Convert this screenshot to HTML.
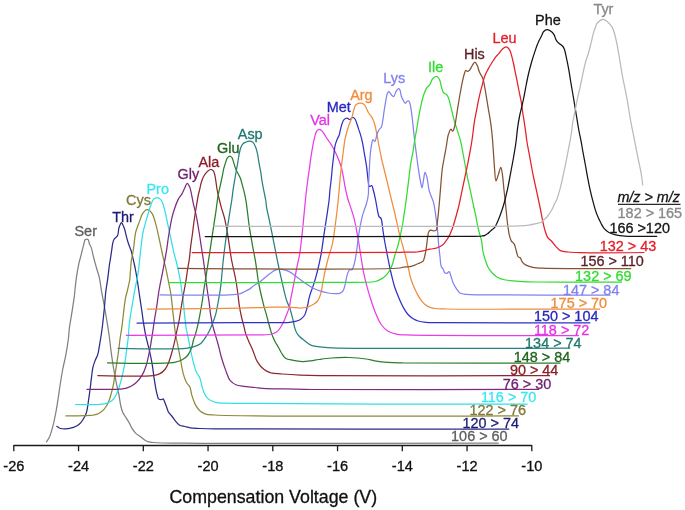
<!DOCTYPE html>
<html><head><meta charset="utf-8"><style>
html,body{margin:0;padding:0;background:#fff;}
body{width:685px;height:510px;overflow:hidden;}
svg{display:block;will-change:transform;filter:blur(0.3px);}
text{font-family:"Liberation Sans",sans-serif;}
</style></head><body>
<svg width="685" height="510" viewBox="0 0 685 510">
<g fill="none" stroke-width="1.25" stroke-linejoin="round" stroke-linecap="round">
<path stroke="#808080" d="M46.5,441.8 C46.5,441.8 48.7,438.6 49.7,436.4 C51.0,433.5 52.0,429.6 53.0,425.7 C54.2,421.1 55.3,415.4 56.2,410.5 C57.0,406.0 57.6,402.1 58.3,397.6 C59.0,392.8 59.7,387.3 60.5,382.5 C61.2,378.0 61.9,373.8 62.7,369.5 C63.5,365.2 64.7,360.5 65.5,356.6 C66.1,353.5 66.5,351.0 67.0,348.0 C67.5,344.8 68.1,341.4 68.5,338.0 C68.9,334.4 69.0,330.6 69.5,327.0 C70.0,323.4 70.7,319.8 71.3,316.2 C71.9,312.6 72.5,309.0 73.0,305.4 C73.5,301.8 74.1,298.3 74.5,294.7 C74.9,291.1 75.2,287.5 75.6,283.9 C76.0,280.3 76.5,276.6 77.1,273.1 C77.6,269.9 78.2,266.7 78.8,263.8 C79.4,261.3 80.0,259.1 80.6,256.8 C81.2,254.4 81.8,252.0 82.4,249.7 C82.9,247.6 83.4,245.6 83.9,243.8 C84.3,242.3 84.5,240.4 85.1,239.7 C85.5,239.3 86.0,239.1 86.5,239.1 C87.0,239.1 87.8,239.2 88.2,239.7 C88.9,240.4 88.9,242.5 89.4,243.8 C89.9,245.1 90.7,246.0 91.2,247.4 C91.9,249.3 92.3,252.1 92.9,254.4 C93.5,256.8 94.1,259.2 94.7,261.5 C95.3,263.7 95.8,265.6 96.5,268.0 C97.3,270.8 98.5,274.0 99.3,277.4 C100.2,281.3 100.6,285.8 101.4,290.3 C102.2,295.1 103.3,300.4 104.2,305.4 C105.1,310.4 106.0,315.5 106.8,320.5 C107.6,325.4 108.4,329.9 109.1,335.0 C109.9,340.5 110.4,346.5 111.2,352.3 C112.0,358.0 113.1,365.6 113.8,369.5 C114.1,371.5 114.4,372.2 114.7,374.0 C115.2,376.7 115.9,380.9 116.6,384.3 C117.3,387.7 118.2,391.1 118.9,394.5 C119.6,398.0 119.9,401.8 120.6,405.0 C121.2,407.7 121.8,410.3 122.8,412.5 C123.6,414.3 124.8,415.7 125.8,417.3 C126.9,419.0 128.1,420.8 129.1,422.6 C130.1,424.3 130.7,426.2 131.7,427.9 C132.8,429.7 134.1,431.6 135.6,433.1 C137.1,434.6 139.1,435.7 140.9,437.0 C142.8,438.4 144.7,440.4 146.8,441.3 C148.8,442.2 151.0,442.2 153.4,442.5 C156.2,442.8 158.5,442.9 162.6,443.0 C170.9,443.3 181.6,443.2 200.0,443.3 C252.0,443.5 498.3,443.2 498.3,443.2"/>
<path stroke="#2a2a88" d="M56.8,426.3 C56.8,426.3 59.1,428.1 60.5,428.5 C62.1,429.0 64.0,429.0 65.9,428.9 C68.2,428.8 71.2,428.2 73.5,427.4 C75.5,426.7 77.3,425.9 78.9,424.6 C80.6,423.2 82.0,421.2 83.2,419.2 C84.5,417.2 85.6,415.3 86.4,412.7 C87.5,409.2 88.0,403.9 88.6,399.8 C89.2,396.0 89.6,392.6 90.1,389.0 C90.6,385.4 90.9,381.8 91.4,378.2 C91.9,374.6 92.2,370.5 92.9,367.4 C93.5,364.9 94.2,363.0 95.0,360.9 C95.8,358.7 97.1,356.8 97.8,354.4 C98.6,351.8 98.9,348.8 99.4,345.8 C100.0,342.4 100.7,338.3 101.2,335.0 C101.6,332.1 101.9,330.2 102.3,327.0 C102.9,322.3 103.6,315.5 104.2,309.7 C104.8,304.0 105.1,298.0 105.7,292.5 C106.3,287.3 107.3,282.2 107.9,277.4 C108.5,273.1 109.0,267.9 109.4,265.0 C109.6,263.5 109.8,262.8 110.0,261.5 C110.3,259.8 110.6,257.6 110.9,255.6 C111.2,253.6 111.5,251.7 111.8,249.7 C112.1,247.7 112.2,245.6 112.6,243.8 C112.9,242.3 113.2,240.8 113.8,239.7 C114.3,238.7 115.2,238.1 115.9,237.4 C116.5,236.8 117.2,236.5 117.6,235.6 C118.4,234.1 118.3,230.4 118.8,228.5 C119.2,227.1 119.5,226.0 120.0,225.0 C120.4,224.1 120.9,222.6 121.4,222.6 C121.9,222.6 122.4,224.1 122.9,225.0 C123.4,226.0 123.9,227.2 124.4,228.5 C125.0,230.2 125.4,232.4 125.9,234.4 C126.4,236.4 126.8,238.3 127.4,240.3 C128.0,242.3 128.7,244.4 129.4,246.2 C130.0,247.9 130.7,249.2 131.2,250.9 C131.8,253.0 132.4,255.6 132.9,257.9 C133.5,260.3 134.0,262.8 134.5,265.0 C134.9,266.8 135.2,268.2 135.5,270.0 C135.9,272.1 136.3,274.3 136.7,276.7 C137.1,279.3 137.5,282.0 138.0,285.0 C138.5,288.6 139.1,292.7 139.7,296.7 C140.3,301.0 141.1,305.7 141.7,310.0 C142.3,314.0 142.7,317.7 143.3,321.7 C144.0,326.0 144.8,331.1 145.6,335.0 C146.3,338.2 147.0,340.7 147.7,343.6 C148.4,346.5 149.1,349.2 149.8,352.3 C150.6,355.7 151.3,359.2 152.0,363.1 C152.8,367.7 153.4,373.4 154.1,378.2 C154.8,382.7 155.7,388.1 156.3,391.1 C156.7,392.8 156.9,393.7 157.3,395.0 C157.7,396.3 157.8,398.2 158.6,398.9 C159.2,399.5 160.4,399.6 161.2,399.6 C161.9,399.6 162.7,398.7 163.2,398.9 C163.8,399.2 164.0,400.5 164.5,401.6 C165.1,403.0 165.8,405.1 166.5,406.8 C167.2,408.6 167.6,410.5 168.5,412.1 C169.4,413.6 170.7,414.6 171.8,416.0 C173.1,417.6 174.3,419.7 175.7,421.3 C176.9,422.8 178.1,424.3 179.6,425.2 C181.1,426.1 183.1,426.1 184.9,426.5 C186.7,427.0 188.1,427.6 190.2,427.9 C193.0,428.3 196.4,428.3 200.0,428.5 C204.5,428.7 206.8,428.8 215.0,428.9 C251.1,429.4 508.8,429.2 508.8,429.2"/>
<path stroke="#8c8a38" d="M65.9,415.9 C65.9,415.9 80.0,415.9 85.0,415.7 C88.3,415.6 90.8,415.6 93.2,415.2 C95.2,414.8 97.0,414.4 98.7,413.5 C100.6,412.5 102.6,410.9 104.2,409.1 C105.9,407.2 107.3,404.7 108.4,402.2 C109.6,399.6 110.3,396.8 111.1,394.0 C111.9,391.3 112.6,388.5 113.2,385.7 C113.8,383.0 114.1,380.2 114.5,377.5 C115.0,374.7 115.4,372.1 115.9,369.2 C116.4,366.1 116.8,362.8 117.3,359.6 C117.8,356.4 118.3,353.3 118.7,350.0 C119.2,346.3 119.6,342.2 120.1,338.5 C120.6,335.0 121.2,331.9 121.7,328.3 C122.3,324.2 122.8,319.3 123.3,315.0 C123.8,311.0 124.2,306.6 124.7,303.3 C125.1,300.8 125.3,298.9 125.8,296.7 C126.3,294.5 126.9,292.5 127.5,290.0 C128.2,287.0 129.2,283.4 129.7,280.0 C130.2,276.7 130.2,273.2 130.5,270.0 C130.8,266.9 130.9,263.7 131.3,261.0 C131.6,258.8 132.0,257.1 132.4,255.0 C132.8,252.8 133.3,250.4 133.6,248.0 C134.0,245.5 134.2,243.0 134.5,240.5 C134.8,238.0 135.0,235.3 135.5,233.0 C135.9,231.0 136.6,229.4 137.2,227.5 C137.9,225.6 138.6,223.7 139.4,221.6 C140.3,219.3 141.1,216.3 142.1,214.4 C142.9,213.0 143.7,211.7 144.7,210.9 C145.5,210.2 146.5,209.6 147.4,209.6 C148.3,209.6 149.2,210.2 150.0,210.9 C151.0,211.7 151.8,212.9 152.6,214.4 C153.7,216.5 154.5,219.5 155.3,222.4 C156.2,225.6 157.1,229.2 157.9,232.9 C158.8,236.9 159.7,241.2 160.6,245.3 C161.5,249.4 162.3,253.6 163.2,257.6 C164.0,261.3 165.1,264.9 165.8,268.3 C166.5,271.3 166.9,273.9 167.5,276.7 C168.1,279.5 168.6,282.2 169.2,285.0 C169.7,287.8 170.3,290.4 170.8,293.3 C171.3,296.5 171.6,300.0 172.0,303.3 C172.4,306.6 172.6,310.0 173.0,313.3 C173.4,316.6 173.8,319.9 174.2,323.3 C174.6,326.8 174.9,330.4 175.5,334.0 C176.1,337.8 177.1,342.0 177.9,345.8 C178.6,349.5 179.2,352.6 180.0,356.6 C181.0,361.7 182.0,369.2 183.3,373.9 C184.3,377.3 185.2,380.2 186.5,382.5 C187.5,384.3 188.9,385.0 189.8,386.8 C190.9,389.1 191.0,392.5 191.9,395.4 C192.8,398.3 193.8,401.5 195.1,404.1 C196.3,406.5 197.8,408.8 199.5,410.5 C201.1,412.0 202.7,413.0 204.9,413.8 C207.7,414.8 209.3,414.7 215.0,415.0 C246.2,416.9 518.5,415.8 518.5,415.8"/>
<path stroke="#30e0e6" d="M75.6,404.5 C75.6,404.5 93.3,404.9 98.7,404.5 C101.7,404.3 103.4,404.2 105.6,403.6 C107.8,403.0 110.0,402.3 111.8,400.8 C113.8,399.2 115.3,396.6 116.6,394.0 C118.1,391.1 119.0,387.7 120.0,384.3 C121.1,380.8 122.0,377.2 122.8,373.4 C123.7,369.4 124.6,365.0 125.2,361.0 C125.8,357.2 126.1,353.7 126.6,350.0 C127.1,346.1 127.8,342.1 128.2,338.0 C128.6,333.8 128.8,329.2 129.2,325.0 C129.6,321.0 130.2,317.0 130.8,313.3 C131.3,309.8 131.9,306.6 132.5,303.3 C133.1,300.0 133.6,296.5 134.2,293.3 C134.7,290.4 135.3,287.8 135.8,285.0 C136.4,282.2 137.0,279.5 137.5,276.7 C138.0,273.9 138.3,271.1 138.7,268.3 C139.0,265.5 139.3,263.2 139.6,260.0 C140.1,255.8 140.6,250.0 141.2,245.3 C141.7,241.0 142.1,236.8 142.9,232.9 C143.6,229.2 144.7,225.7 145.6,222.4 C146.5,219.3 147.3,216.5 148.2,213.5 C149.1,210.6 149.9,207.2 150.9,204.7 C151.7,202.7 152.3,200.6 153.5,199.4 C154.5,198.4 155.9,197.6 157.1,197.6 C158.3,197.6 159.6,198.4 160.6,199.4 C161.8,200.6 162.4,202.6 163.2,204.7 C164.3,207.6 165.0,211.6 165.9,215.3 C166.8,219.2 167.6,223.5 168.5,227.6 C169.4,231.7 170.3,235.9 171.2,240.0 C172.1,244.1 172.9,248.5 173.8,252.4 C174.6,255.8 175.6,258.9 176.4,262.0 C177.1,264.8 177.6,267.2 178.2,270.0 C178.9,273.1 179.6,276.6 180.2,280.0 C180.8,283.6 181.3,287.3 181.8,291.0 C182.3,294.8 182.8,298.6 183.3,302.5 C183.8,306.6 184.1,310.9 184.6,315.0 C185.0,319.0 185.4,323.3 186.0,327.0 C186.5,330.2 187.2,333.0 187.8,336.0 C188.4,339.0 188.9,341.6 189.6,345.0 C190.5,349.6 191.8,356.1 193.0,360.9 C194.0,364.9 194.9,368.8 196.2,371.7 C197.2,373.9 198.6,375.1 199.5,377.1 C200.5,379.3 200.9,382.1 201.6,384.6 C202.3,387.1 202.8,389.9 203.8,392.2 C204.7,394.2 205.7,396.1 207.0,397.6 C208.2,399.0 209.7,400.0 211.3,400.8 C213.0,401.7 214.5,402.2 216.8,402.6 C220.7,403.3 224.0,403.1 232.5,403.3 C269.3,404.2 527.2,404.2 527.2,404.2"/>
<path stroke="#7e2a80" d="M87.0,389.4 C87.0,389.4 113.6,389.5 120.0,389.1 C122.6,388.9 123.7,388.9 125.5,388.4 C127.4,387.9 129.2,387.3 131.0,386.3 C132.9,385.3 134.8,383.9 136.5,382.2 C138.5,380.3 140.4,377.9 142.0,375.3 C143.7,372.5 145.0,369.1 146.1,365.7 C147.3,362.2 148.0,358.4 148.8,354.7 C149.6,351.0 150.2,347.6 150.9,343.7 C151.6,339.4 152.3,334.4 153.0,330.0 C153.6,325.9 154.1,322.2 154.7,318.3 C155.3,314.4 156.1,310.6 156.7,306.7 C157.3,302.8 157.7,298.7 158.3,295.0 C158.8,291.5 159.4,288.2 160.0,285.0 C160.5,282.1 161.2,279.5 161.7,276.7 C162.3,273.9 162.8,271.1 163.3,268.3 C163.9,265.4 164.4,262.5 165.0,259.4 C165.6,256.0 166.2,252.5 166.8,248.8 C167.4,244.9 167.9,240.4 168.5,236.5 C169.1,232.8 169.7,229.3 170.3,225.9 C170.9,222.8 171.4,220.0 172.1,217.1 C172.8,214.1 173.7,211.1 174.7,208.2 C175.7,205.2 176.9,201.9 178.2,199.4 C179.3,197.3 180.8,195.9 181.8,194.1 C182.8,192.4 183.5,190.6 184.4,188.8 C185.3,187.0 186.3,183.4 187.3,183.4 C188.1,183.4 189.0,185.6 189.7,187.1 C190.5,189.0 190.9,191.6 191.5,194.1 C192.1,196.9 192.5,199.7 193.2,202.9 C194.0,206.8 195.3,211.1 196.2,215.6 C197.3,220.7 198.2,226.6 199.1,232.0 C200.0,237.4 200.7,242.9 201.5,248.0 C202.2,252.6 202.9,256.5 203.5,261.0 C204.2,265.8 204.9,271.2 205.5,276.0 C206.1,280.5 206.5,284.7 207.1,289.0 C207.7,293.2 208.4,297.3 209.0,301.5 C209.6,305.8 210.0,310.4 210.6,314.4 C211.2,318.0 211.8,321.4 212.5,324.6 C213.2,327.6 214.0,330.0 214.8,333.0 C215.7,336.3 216.9,339.8 217.9,343.5 C219.1,347.7 220.0,352.5 221.3,357.0 C222.6,361.5 224.2,366.4 225.8,370.6 C227.2,374.3 228.3,378.2 230.3,380.7 C231.9,382.6 233.8,383.9 235.9,384.8 C238.2,385.8 240.9,386.0 243.8,386.4 C247.2,386.9 251.3,387.1 255.1,387.5 C258.9,387.9 261.7,388.3 266.4,388.6 C273.9,389.0 286.4,388.9 295.7,389.1 C304.2,389.2 307.9,389.4 320.0,389.5 C356.4,389.8 538.6,389.3 538.6,389.3"/>
<path stroke="#8c2830" d="M97.8,375.6 C97.8,375.6 143.6,376.8 153.0,375.6 C156.3,375.2 157.5,374.9 159.5,373.9 C161.5,372.9 163.4,371.4 164.9,369.5 C166.7,367.3 168.0,364.0 169.2,360.9 C170.5,357.6 171.5,353.7 172.5,350.1 C173.5,346.5 174.4,342.6 175.1,339.3 C175.7,336.5 176.1,334.5 176.7,331.7 C177.4,328.2 178.5,324.0 179.2,320.0 C180.0,315.7 180.6,311.0 181.3,306.7 C182.0,302.7 182.6,299.0 183.3,295.0 C184.1,290.7 185.1,286.0 185.8,281.7 C186.5,277.7 186.9,273.7 187.5,270.0 C188.0,266.5 188.7,263.6 189.2,260.0 C189.8,256.0 190.1,251.3 190.6,247.1 C191.1,243.0 191.7,239.3 192.3,235.0 C192.9,230.3 193.5,225.0 194.2,220.0 C194.9,215.0 195.8,209.6 196.6,205.0 C197.2,201.2 197.8,197.4 198.4,194.5 C198.9,192.4 199.3,190.9 199.8,189.0 C200.3,187.0 200.6,184.8 201.2,182.8 C201.8,180.9 202.4,178.9 203.2,177.3 C203.8,176.0 204.5,175.0 205.3,173.9 C206.1,172.8 207.0,171.6 208.0,170.9 C209.0,170.2 210.2,169.4 211.2,169.5 C212.1,169.6 212.9,170.4 213.5,171.2 C214.2,172.2 214.5,173.7 214.9,175.3 C215.4,177.3 215.7,179.8 216.0,182.1 C216.4,184.4 216.6,186.7 217.0,189.0 C217.4,191.3 217.8,193.4 218.4,196.0 C219.2,199.3 220.3,203.6 221.3,207.3 C222.3,210.9 223.6,214.4 224.5,218.0 C225.4,221.6 226.0,225.0 226.7,228.8 C227.5,232.9 228.1,237.2 228.8,241.8 C229.6,247.1 230.3,253.1 231.4,259.0 C232.5,265.2 234.3,272.3 235.4,278.0 C236.3,282.7 236.9,286.5 237.5,291.0 C238.2,295.7 238.6,301.0 239.3,305.5 C239.9,309.6 240.7,313.4 241.5,317.0 C242.2,320.2 243.1,323.0 243.8,325.9 C244.5,328.7 245.0,331.4 245.8,334.0 C246.6,336.4 247.5,338.5 248.6,341.0 C249.8,343.9 251.4,347.0 252.8,350.3 C254.3,353.9 255.3,358.3 257.3,361.6 C259.1,364.6 261.6,367.6 264.1,369.5 C266.2,371.1 268.3,372.0 270.9,372.8 C274.1,373.7 277.9,373.6 282.1,374.0 C287.4,374.4 294.0,374.8 300.2,375.1 C306.6,375.4 309.8,375.5 320.0,375.6 C354.7,376.0 549.6,375.7 549.6,375.7"/>
<path stroke="#2a7e2a" d="M107.5,362.9 C107.5,362.9 163.4,364.3 174.6,362.4 C178.5,361.7 180.0,361.0 182.2,359.8 C184.3,358.7 186.1,357.3 187.6,355.5 C189.3,353.5 190.5,350.6 191.5,348.0 C192.5,345.4 192.8,342.4 193.5,340.0 C194.1,338.1 194.7,336.8 195.3,334.8 C196.1,332.0 197.1,328.2 197.9,324.6 C198.8,320.6 199.6,316.1 200.4,311.9 C201.2,307.7 201.9,303.6 202.5,299.5 C203.1,295.5 203.6,291.6 204.2,287.7 C204.8,283.9 205.3,280.7 206.0,276.3 C207.0,270.2 208.3,261.9 209.4,254.7 C210.5,247.5 211.5,240.3 212.6,233.1 C213.7,225.9 215.0,217.7 215.9,211.6 C216.5,207.1 216.9,203.4 217.4,200.0 C217.8,197.4 218.1,195.5 218.6,193.1 C219.1,190.5 219.8,187.6 220.4,184.9 C221.0,182.1 221.6,179.4 222.2,176.6 C222.8,173.9 223.2,170.8 223.8,168.4 C224.3,166.4 224.9,164.7 225.5,162.9 C226.1,161.2 226.4,159.3 227.2,158.1 C227.8,157.2 228.8,156.2 229.6,156.1 C230.3,156.0 231.2,156.7 231.8,157.4 C232.6,158.3 232.9,160.0 233.4,161.6 C234.1,163.6 234.7,166.3 235.5,168.4 C236.3,170.4 237.3,172.2 238.2,173.9 C238.9,175.4 239.7,176.4 240.3,178.0 C241.1,180.0 241.7,182.6 242.3,184.9 C242.9,187.2 243.5,189.3 244.1,191.7 C244.7,194.3 245.4,197.6 245.8,200.0 C246.1,201.9 246.3,202.8 246.6,205.1 C247.3,209.8 248.3,219.7 249.3,226.7 C250.3,233.4 251.5,239.8 252.6,246.1 C253.7,252.0 254.9,257.6 255.8,263.3 C256.7,269.0 257.4,275.4 258.2,280.3 C258.8,284.1 259.5,287.2 260.2,290.5 C260.9,293.7 261.6,296.8 262.3,299.7 C263.0,302.4 263.6,305.1 264.3,307.6 C264.9,309.9 265.7,311.9 266.3,314.2 C267.0,316.7 267.6,319.4 268.3,322.0 C269.0,324.5 269.7,327.1 270.4,329.5 C271.0,331.6 271.5,333.5 272.3,335.5 C273.1,337.5 274.0,339.5 275.0,341.5 C276.0,343.5 277.4,345.5 278.5,347.5 C279.6,349.4 280.4,351.2 281.5,353.0 C282.7,354.8 283.7,357.0 285.5,358.2 C287.5,359.6 290.7,359.8 293.4,360.4 C296.3,361.0 299.4,361.5 302.4,361.6 C305.3,361.7 308.2,361.2 311.0,360.8 C313.6,360.5 315.7,359.9 318.6,359.5 C322.3,359.0 327.0,358.3 331.6,358.0 C336.9,357.6 343.1,357.3 348.8,357.5 C354.6,357.7 361.3,358.3 366.1,359.0 C369.5,359.5 371.5,360.3 374.7,360.8 C378.6,361.4 383.2,362.0 387.7,362.3 C392.5,362.7 395.1,362.7 402.8,362.9 C427.6,363.4 560.0,363.0 560.0,363.0"/>
<path stroke="#2a8080" d="M118.1,348.4 C118.1,348.4 175.6,349.7 187.6,348.1 C191.9,347.5 193.9,346.7 196.2,345.8 C197.9,345.2 199.1,344.9 200.4,343.8 C202.2,342.4 204.0,339.6 205.5,337.4 C206.9,335.3 208.2,333.3 209.3,331.0 C210.5,328.6 211.5,326.1 212.5,323.4 C213.6,320.5 214.8,317.7 215.7,314.4 C216.7,310.6 217.4,306.1 218.2,302.0 C218.9,298.0 219.7,293.8 220.2,290.2 C220.6,287.2 220.8,285.4 221.2,282.0 C221.8,276.3 222.5,266.9 223.4,259.0 C224.3,250.6 225.6,241.3 226.7,233.1 C227.7,225.6 229.0,217.7 229.9,211.6 C230.6,207.1 231.2,203.9 231.8,200.0 C232.4,195.9 232.8,191.3 233.4,187.6 C233.9,184.6 234.3,182.1 234.8,179.4 C235.3,176.7 235.7,173.8 236.2,171.2 C236.6,168.8 237.1,166.6 237.5,164.3 C237.9,162.0 238.2,159.6 238.6,157.4 C238.9,155.5 239.2,153.7 239.6,152.0 C240.0,150.3 240.4,148.5 241.0,147.1 C241.5,145.8 242.1,144.5 243.0,143.7 C243.8,142.9 244.8,142.5 245.8,142.1 C246.9,141.6 248.1,141.0 249.2,141.0 C250.3,141.0 251.6,141.3 252.6,142.1 C253.8,143.0 254.6,144.8 255.4,146.5 C256.3,148.5 256.8,150.9 257.4,153.3 C258.0,155.9 258.3,158.7 258.8,161.6 C259.3,164.7 260.0,167.9 260.6,171.2 C261.2,174.7 261.6,178.5 262.2,182.1 C262.8,185.8 263.7,189.9 264.3,193.1 C264.8,195.7 265.3,197.7 265.7,200.0 C266.1,202.4 266.1,204.4 266.6,207.3 C267.3,211.4 268.7,216.9 269.8,222.4 C271.1,228.9 272.7,236.7 274.1,243.9 C275.5,251.1 277.0,259.0 278.4,265.5 C279.5,270.8 280.7,275.9 281.6,280.0 C282.3,283.0 282.8,285.3 283.4,287.9 C284.0,290.5 284.6,293.3 285.3,295.8 C285.9,298.1 286.5,300.3 287.3,302.3 C288.0,304.2 289.0,305.7 289.7,307.6 C290.4,309.7 290.9,312.0 291.5,314.2 C292.1,316.4 292.7,318.5 293.2,320.7 C293.7,322.9 294.0,325.3 294.6,327.3 C295.1,329.2 295.7,330.9 296.5,332.5 C297.3,334.0 298.3,335.2 299.5,336.5 C300.9,337.9 302.7,339.2 304.5,340.6 C306.6,342.2 308.9,344.3 311.4,345.3 C314.0,346.4 316.9,346.5 320.0,346.9 C323.6,347.4 325.3,347.5 331.6,347.8 C360.3,348.9 569.7,348.2 569.7,348.2"/>
<path stroke="#e83ce8" d="M126.3,335.3 C126.3,335.3 241.2,335.3 259.7,334.9 C264.6,334.8 266.3,334.9 268.9,334.5 C270.9,334.2 272.6,333.9 274.2,333.2 C275.7,332.6 276.9,331.7 278.1,330.6 C279.4,329.4 280.4,327.7 281.4,326.0 C282.6,324.0 283.7,321.6 284.7,319.4 C285.7,317.2 286.5,314.9 287.3,312.8 C288.0,311.0 288.8,309.5 289.3,307.6 C289.9,305.3 290.1,302.2 290.6,299.7 C291.0,297.4 291.5,295.3 291.9,293.1 C292.3,290.9 292.8,288.8 293.2,286.6 C293.6,284.4 294.0,282.5 294.5,280.0 C295.2,276.5 296.0,271.8 296.8,267.7 C297.6,263.5 298.7,259.8 299.5,255.0 C300.6,248.7 301.4,240.4 302.2,233.1 C303.0,225.9 303.7,218.2 304.3,211.6 C304.8,206.0 305.3,200.8 305.8,196.0 C306.3,191.8 306.7,188.4 307.2,184.3 C307.8,179.9 308.5,175.0 309.1,170.6 C309.7,166.5 310.1,162.7 310.7,158.8 C311.3,154.9 311.9,150.8 312.6,147.1 C313.2,143.7 313.8,140.1 314.6,137.3 C315.2,135.1 315.7,132.8 316.6,131.4 C317.2,130.4 318.1,129.5 318.9,129.4 C319.7,129.3 320.7,129.8 321.5,130.4 C322.6,131.2 323.5,132.9 324.4,134.3 C325.4,135.8 326.4,137.7 327.4,139.2 C328.3,140.6 329.4,141.7 330.3,143.1 C331.3,144.6 332.3,146.3 333.2,148.0 C334.2,149.9 335.2,151.8 336.2,153.9 C337.2,156.1 338.2,158.4 339.1,160.8 C340.0,163.3 341.0,165.8 341.7,168.6 C342.5,171.7 343.0,175.1 343.6,178.4 C344.2,181.6 344.6,184.8 345.3,188.0 C346.0,191.3 346.7,194.7 347.6,198.0 C348.5,201.3 349.7,204.3 350.8,207.6 C351.9,211.2 353.3,215.1 354.2,218.8 C355.1,222.3 355.6,225.5 356.3,229.0 C357.0,232.8 357.8,236.8 358.5,241.0 C359.3,245.5 359.9,250.1 360.7,255.0 C361.5,260.3 362.4,266.2 363.4,271.5 C364.4,276.4 365.5,281.1 366.7,285.5 C367.8,289.5 368.7,292.8 370.0,297.0 C371.6,302.1 373.7,308.8 375.8,313.7 C377.5,317.8 379.0,321.5 381.2,324.5 C383.1,327.1 385.2,329.4 387.7,331.0 C390.2,332.6 393.2,333.5 396.3,334.2 C399.6,334.9 401.2,334.7 406.8,334.9 C429.5,335.7 578.5,335.6 578.5,335.6"/>
<path stroke="#3030c4" d="M137.0,323.1 C137.0,323.1 211.8,322.8 240.0,322.6 C259.6,322.5 281.7,323.0 289.9,322.3 C292.6,322.1 293.5,321.9 295.2,321.4 C297.0,320.9 298.9,320.4 300.4,319.4 C301.9,318.4 303.4,317.0 304.4,315.5 C305.4,314.0 305.8,312.0 306.4,310.2 C306.9,308.5 307.3,306.8 307.7,305.0 C308.2,302.9 308.5,300.6 309.0,298.4 C309.6,296.2 310.3,293.9 311.0,291.8 C311.6,290.0 312.3,288.5 312.9,286.6 C313.7,284.3 314.5,281.6 315.3,279.0 C316.1,276.1 316.9,273.4 317.7,270.0 C318.8,265.6 320.0,260.3 321.0,254.7 C322.2,248.1 323.1,240.3 324.2,233.1 C325.3,225.9 326.6,217.7 327.5,211.6 C328.1,207.1 328.7,203.7 329.1,200.0 C329.5,196.6 329.6,193.6 329.9,190.2 C330.3,186.4 330.9,182.5 331.3,178.4 C331.8,174.0 332.1,168.9 332.6,164.7 C333.0,161.2 333.4,158.2 333.8,154.9 C334.2,151.6 334.5,147.9 335.2,145.1 C335.7,142.9 336.5,140.9 337.2,139.2 C337.8,137.7 338.6,136.8 339.1,135.3 C339.7,133.6 340.0,131.4 340.5,129.4 C341.0,127.4 341.4,125.2 342.1,123.5 C342.6,122.0 343.1,120.5 344.0,119.6 C344.8,118.8 346.0,118.0 347.0,118.0 C347.9,118.0 348.9,119.6 349.8,119.5 C350.8,119.4 351.9,117.3 352.8,117.3 C353.5,117.3 354.2,117.9 354.8,118.6 C355.7,119.6 356.2,121.8 356.8,123.5 C357.5,125.4 358.1,127.4 358.7,129.4 C359.4,131.4 360.1,133.2 360.7,135.3 C361.4,137.7 362.0,140.2 362.6,143.1 C363.3,146.6 363.9,151.0 364.6,154.9 C365.3,158.8 366.0,162.8 366.6,166.7 C367.1,170.6 367.4,174.9 367.9,178.4 C368.3,181.4 368.3,185.9 369.4,186.5 C370.0,186.8 371.2,185.3 371.8,185.6 C372.6,186.0 372.7,188.1 373.2,189.8 C374.0,192.4 374.9,196.5 375.6,200.0 C376.4,203.8 377.1,209.0 377.8,212.0 C378.2,213.9 378.3,215.5 379.0,216.6 C379.5,217.4 380.5,217.4 381.0,218.4 C382.1,220.5 382.3,226.1 382.9,230.0 C383.5,234.0 384.1,238.1 384.8,242.0 C385.4,245.6 386.1,248.8 386.8,252.5 C387.6,256.7 388.6,261.7 389.5,266.0 C390.3,269.9 391.1,273.5 392.0,277.0 C392.8,280.3 393.5,283.4 394.5,286.5 C395.4,289.4 396.7,292.4 397.7,295.0 C398.6,297.3 399.4,299.3 400.4,301.5 C401.4,303.7 402.5,306.0 403.7,308.1 C404.9,310.2 406.1,312.2 407.6,314.0 C409.1,315.7 411.0,317.4 412.8,318.6 C414.5,319.7 416.1,320.4 418.1,321.0 C420.4,321.7 423.0,322.0 426.0,322.3 C429.8,322.7 432.4,322.5 439.1,322.6 C462.0,322.9 589.9,322.8 589.9,322.8"/>
<path stroke="#f08c3c" d="M147.4,309.0 C147.4,309.0 218.5,308.7 240.0,308.2 C251.4,308.0 257.9,307.5 266.3,307.3 C274.0,307.2 282.1,307.0 288.6,307.2 C293.6,307.3 298.2,308.2 301.8,308.0 C304.4,307.9 306.3,307.5 308.3,306.9 C310.2,306.3 312.0,305.3 313.6,304.3 C315.1,303.3 316.4,302.4 317.5,301.0 C318.6,299.6 319.4,297.6 320.1,295.8 C320.8,294.1 321.1,292.4 321.5,290.5 C322.0,288.3 322.3,285.8 322.7,283.5 C323.1,281.1 323.4,279.2 324.0,276.3 C324.9,271.8 326.6,264.6 328.0,259.0 C329.4,253.8 331.2,249.4 332.4,243.9 C333.8,237.4 334.7,229.2 335.6,222.4 C336.4,216.3 337.1,210.8 337.7,205.0 C338.3,199.4 338.8,193.5 339.3,188.2 C339.7,183.4 340.0,179.1 340.5,174.5 C341.0,169.9 341.6,165.2 342.1,160.8 C342.6,156.7 343.1,152.7 343.6,149.0 C344.1,145.6 344.4,142.3 345.0,139.2 C345.6,136.4 346.3,134.0 347.0,131.4 C347.8,128.8 348.6,125.9 349.5,123.5 C350.3,121.4 351.2,119.7 351.9,117.6 C352.7,115.2 353.1,112.1 353.8,109.8 C354.4,108.0 354.7,106.0 355.8,104.9 C356.8,103.9 358.5,103.3 359.9,103.2 C361.1,103.1 362.6,103.2 363.6,103.9 C364.8,104.7 365.6,106.7 366.4,108.2 C367.2,109.7 367.7,111.6 368.6,113.0 C369.4,114.3 370.5,115.2 371.3,116.4 C372.1,117.7 372.8,119.1 373.4,120.5 C374.0,121.8 374.4,123.0 374.8,124.5 C375.3,126.2 375.6,128.1 376.0,130.0 C376.5,132.2 377.0,134.7 377.4,137.0 C377.8,139.3 378.2,141.6 378.6,144.0 C379.1,146.6 379.7,149.4 380.2,152.0 C380.7,154.4 381.1,156.7 381.6,159.0 C382.1,161.3 382.7,163.7 383.3,166.0 C383.9,168.3 384.4,170.7 385.0,173.0 C385.5,175.2 386.1,177.3 386.6,179.5 C387.2,181.9 387.7,184.2 388.4,187.0 C389.3,190.7 390.5,195.8 391.5,200.0 C392.5,204.1 393.4,207.4 394.5,212.0 C395.9,218.0 397.7,226.9 399.2,233.1 C400.4,237.9 401.6,241.8 402.8,246.0 C403.9,250.1 405.0,254.1 406.0,258.0 C406.9,261.6 407.7,265.1 408.5,268.5 C409.2,271.6 409.7,274.7 410.5,277.5 C411.2,280.0 412.0,282.1 412.9,284.5 C413.9,287.0 415.1,289.6 416.3,292.0 C417.5,294.4 418.6,296.8 420.1,298.9 C421.5,300.9 423.0,302.8 424.7,304.2 C426.3,305.5 428.1,306.7 429.9,307.4 C431.6,308.1 433.1,308.2 435.2,308.5 C438.1,308.9 440.1,308.9 445.7,309.0 C466.9,309.5 599.6,309.0 599.6,309.0"/>
<path stroke="#8282f0" d="M160.0,294.9 C160.0,294.9 213.3,295.4 225.0,295.1 C229.3,295.0 231.3,294.8 233.8,294.6 C235.8,294.4 237.3,294.4 239.0,294.0 C240.8,293.5 242.6,292.6 244.3,291.8 C246.1,291.0 247.9,290.1 249.5,289.1 C251.1,288.1 252.4,286.6 253.9,285.6 C255.3,284.6 256.9,284.0 258.3,283.0 C259.8,282.0 261.2,280.7 262.7,279.5 C264.1,278.3 265.6,277.2 267.0,276.0 C268.5,274.8 269.9,273.5 271.4,272.5 C272.8,271.5 274.4,270.5 275.8,269.9 C277.0,269.4 277.9,269.0 279.3,269.0 C281.5,269.0 285.1,269.8 287.6,270.8 C289.9,271.7 291.8,273.3 293.9,274.7 C296.0,276.2 298.1,277.8 300.2,279.4 C302.3,281.0 304.4,282.6 306.5,284.1 C308.5,285.5 310.5,286.8 312.7,288.0 C315.1,289.2 318.0,290.4 320.6,291.2 C323.1,292.0 325.6,292.6 328.0,293.0 C330.4,293.4 332.9,293.6 335.0,293.6 C336.7,293.6 338.2,293.8 339.5,293.3 C340.8,292.9 342.0,292.2 342.9,291.0 C344.1,289.5 344.5,286.8 345.2,284.3 C346.0,281.3 346.4,276.7 347.4,274.1 C348.1,272.3 348.7,270.4 349.7,269.8 C350.3,269.4 351.3,270.1 351.9,269.7 C353.0,269.0 353.5,266.2 354.2,264.0 C355.1,261.0 355.7,257.0 356.3,253.0 C357.1,248.2 357.7,241.9 358.4,237.0 C359.0,232.9 359.6,229.2 360.3,225.6 C360.9,222.4 361.5,219.4 362.2,216.6 C362.8,214.2 363.6,212.0 364.3,209.8 C365.0,207.7 365.9,205.8 366.5,203.5 C367.3,200.7 368.1,197.0 368.4,194.0 C368.7,191.2 368.4,188.9 368.5,186.0 C368.6,182.5 368.9,178.8 369.1,174.5 C369.4,168.9 369.7,160.5 370.2,155.0 C370.6,151.0 371.0,147.3 371.6,144.5 C372.0,142.5 372.2,139.8 372.9,139.6 C373.4,139.4 374.3,141.6 374.9,141.4 C375.8,141.1 376.2,136.7 376.9,134.7 C377.5,133.0 378.0,131.3 378.8,130.0 C379.5,128.8 380.8,128.3 381.4,127.0 C382.2,125.4 382.3,123.3 382.7,121.0 C383.2,118.1 383.6,114.5 384.1,111.2 C384.6,107.9 385.1,104.5 385.7,101.4 C386.2,98.6 386.6,95.2 387.3,93.5 C387.7,92.6 388.1,91.7 388.6,91.6 C389.1,91.5 389.7,92.5 390.2,93.1 C390.8,93.8 391.3,94.9 392.0,95.5 C392.6,96.0 393.3,96.7 393.9,96.5 C394.8,96.2 395.1,93.0 395.9,91.6 C396.6,90.4 397.6,88.7 398.4,88.6 C398.9,88.5 399.4,89.0 399.8,89.6 C400.6,90.8 400.7,94.6 401.4,96.5 C401.9,98.0 402.6,99.2 403.3,100.4 C403.9,101.5 404.7,103.3 405.3,103.3 C405.8,103.3 406.3,101.8 406.9,101.4 C407.5,101.1 408.3,100.7 408.8,101.0 C409.5,101.4 409.8,102.9 410.2,104.3 C410.8,106.5 411.2,109.9 411.6,113.1 C412.1,116.7 412.6,121.0 413.0,124.9 C413.4,128.7 413.7,132.4 414.1,136.0 C414.5,139.6 414.9,142.9 415.4,146.5 C415.9,150.2 416.4,154.1 416.9,158.0 C417.4,162.0 418.0,166.2 418.6,170.3 C419.2,174.3 419.9,178.9 420.6,182.1 C421.1,184.4 421.5,187.9 422.0,187.9 C422.5,187.9 423.0,182.7 423.5,180.1 C424.0,177.5 424.4,172.3 425.1,172.3 C425.7,172.3 426.5,175.8 427.1,178.1 C427.9,181.3 428.2,186.7 429.0,189.9 C429.6,192.2 430.3,193.8 431.0,195.8 C431.7,197.8 432.7,199.6 433.3,201.7 C434.0,204.1 434.5,206.9 434.9,209.5 C435.4,212.1 435.6,214.8 436.0,217.4 C436.3,220.0 436.7,222.4 437.0,225.0 C437.3,227.6 437.5,230.1 437.8,233.0 C438.1,236.6 438.3,241.0 438.7,245.0 C439.1,248.9 439.5,253.0 440.0,256.7 C440.4,260.2 440.4,264.7 441.3,266.7 C441.7,267.7 442.5,268.0 443.0,268.8 C443.6,269.9 443.9,272.0 444.7,272.7 C445.3,273.2 446.0,273.4 446.7,273.3 C447.5,273.2 448.5,271.5 449.2,271.7 C450.0,272.0 450.2,274.2 450.8,275.8 C451.6,277.9 452.3,281.0 453.3,283.3 C454.3,285.4 455.5,287.5 456.7,289.2 C457.7,290.7 458.5,292.1 460.0,293.0 C461.7,294.0 464.1,294.1 466.7,294.4 C470.4,294.8 473.3,294.7 480.0,294.8 C501.0,295.1 610.0,295.2 610.0,295.2"/>
<path stroke="#32dc32" d="M169.3,282.5 C169.3,282.5 298.4,282.8 335.0,282.4 C353.1,282.2 369.0,282.9 375.6,281.5 C377.9,281.0 378.6,280.3 380.0,279.6 C381.4,278.9 382.7,278.2 383.9,277.3 C385.2,276.3 386.4,275.0 387.5,273.7 C388.5,272.4 389.4,271.0 390.2,269.5 C391.1,267.8 391.8,266.1 392.5,264.0 C393.4,261.3 394.1,257.7 395.0,254.7 C395.9,251.7 396.9,249.2 397.8,246.0 C398.8,242.3 399.8,237.7 400.6,234.0 C401.3,230.8 401.9,228.1 402.5,225.0 C403.1,221.8 403.5,218.3 404.0,215.0 C404.5,211.7 405.0,208.6 405.5,205.0 C406.1,201.0 406.6,196.4 407.2,192.0 C407.8,187.4 408.3,182.7 408.9,178.1 C409.5,173.4 410.0,168.5 410.7,164.0 C411.3,159.9 412.2,156.4 412.9,152.4 C413.6,148.1 414.2,143.3 414.9,139.0 C415.6,134.9 416.4,130.9 417.1,126.9 C417.8,122.9 418.3,118.8 419.0,115.1 C419.6,111.7 420.3,108.4 421.0,105.3 C421.6,102.5 422.2,99.9 422.9,97.5 C423.5,95.4 424.2,93.4 424.9,91.6 C425.5,90.1 426.1,88.8 426.9,87.6 C427.7,86.5 428.9,85.9 429.8,84.7 C430.9,83.1 431.4,80.2 432.7,78.8 C433.8,77.6 435.5,76.1 436.7,76.3 C437.8,76.5 438.8,78.3 439.6,79.8 C440.6,81.8 440.9,85.3 441.6,87.6 C442.2,89.5 442.6,91.5 443.6,92.7 C444.4,93.7 445.9,93.8 446.7,94.7 C447.6,95.6 448.0,96.8 448.6,98.3 C449.4,100.5 450.1,103.9 450.8,106.7 C451.5,109.3 452.1,111.9 452.7,114.5 C453.4,117.1 454.0,120.0 454.7,122.4 C455.3,124.5 456.1,126.2 456.7,128.2 C457.4,130.3 458.0,132.6 458.6,134.6 C459.2,136.5 459.8,138.1 460.3,140.0 C460.9,142.1 461.2,144.1 461.8,146.8 C462.6,150.9 463.7,157.3 464.7,162.5 C465.7,167.7 466.6,173.1 467.6,178.1 C468.6,182.8 469.6,187.3 470.6,191.9 C471.6,196.5 472.6,201.2 473.5,205.6 C474.4,209.6 475.2,213.3 476.0,217.0 C476.7,220.6 477.3,224.4 478.0,227.5 C478.6,230.1 479.2,232.2 479.8,234.5 C480.4,236.8 481.1,238.7 481.6,241.2 C482.2,244.1 482.3,247.9 482.9,251.0 C483.4,253.8 484.1,256.2 484.9,258.8 C485.7,261.4 486.6,264.3 487.8,266.7 C488.9,268.9 490.2,270.7 491.8,272.5 C493.5,274.3 495.4,276.3 497.6,277.5 C499.9,278.8 502.5,279.4 505.5,280.0 C509.4,280.8 514.2,281.1 519.2,281.4 C525.1,281.8 530.0,281.9 538.8,282.0 C556.9,282.3 621.5,282.0 621.5,282.0"/>
<path stroke="#84522f" d="M178.3,268.3 C178.3,268.3 383.5,269.9 400.0,268.0 C402.1,267.8 402.1,267.4 403.5,267.2 C405.3,266.9 408.0,267.1 410.0,266.7 C411.8,266.3 413.5,265.6 415.0,265.0 C416.2,264.5 417.3,263.9 418.3,263.5 C419.2,263.1 420.0,262.9 420.8,262.5 C421.7,262.0 422.6,261.7 423.3,260.8 C424.2,259.5 424.5,257.2 425.0,255.0 C425.7,252.1 426.2,248.3 426.7,245.0 C427.1,241.9 427.4,238.3 427.8,236.0 C428.1,234.5 428.1,233.3 428.6,232.3 C429.0,231.4 429.6,230.4 430.4,230.1 C431.2,229.8 432.3,230.8 433.3,230.8 C434.3,230.8 435.6,230.8 436.3,230.1 C437.3,229.1 436.9,226.4 437.2,224.0 C437.6,220.5 438.2,215.6 438.6,211.0 C439.1,205.9 439.6,200.2 440.0,195.0 C440.4,189.9 440.8,184.8 441.2,180.1 C441.6,176.0 441.8,172.2 442.3,168.5 C442.8,165.0 443.5,161.9 444.1,158.5 C444.7,154.9 445.5,151.2 446.1,147.5 C446.8,143.7 447.4,138.2 448.0,135.8 C448.3,134.7 448.4,134.4 448.8,133.5 C449.3,132.3 450.0,129.3 450.8,129.2 C451.4,129.1 452.1,131.3 452.7,131.2 C453.5,131.1 454.1,128.3 454.7,126.3 C455.6,123.3 456.0,118.4 456.7,114.5 C457.3,110.6 457.9,106.6 458.6,102.7 C459.2,98.8 459.9,94.7 460.6,91.0 C461.2,87.6 461.8,84.3 462.5,81.2 C463.1,78.4 463.8,75.3 464.5,73.3 C464.9,72.1 465.2,70.6 465.8,70.4 C466.3,70.3 466.9,71.4 467.5,71.4 C468.1,71.4 468.8,71.0 469.4,70.4 C470.3,69.5 471.1,67.4 472.0,66.0 C472.9,64.6 474.0,62.0 474.9,62.0 C475.7,62.0 476.6,64.1 477.3,65.5 C478.1,67.2 478.5,69.7 479.2,71.4 C479.8,72.9 480.5,74.0 481.2,75.3 C481.8,76.6 482.6,77.6 483.1,79.2 C483.8,81.3 484.2,84.2 484.7,87.1 C485.4,90.6 486.1,94.9 486.7,98.8 C487.4,102.7 488.0,106.7 488.6,110.6 C489.3,114.5 490.1,118.7 490.6,122.4 C491.1,125.8 491.5,128.8 491.8,132.0 C492.2,135.3 492.4,138.4 492.7,142.0 C493.0,146.0 493.3,150.7 493.6,155.0 C493.9,159.3 494.1,163.7 494.5,168.0 C494.9,172.3 495.1,180.9 495.9,181.0 C496.5,181.1 497.4,177.2 498.2,175.1 C499.1,172.7 500.1,167.3 500.8,167.3 C501.4,167.3 501.8,170.7 502.2,173.1 C502.9,177.1 503.4,184.0 503.9,189.0 C504.4,193.6 504.9,197.9 505.3,202.0 C505.7,205.6 505.9,208.6 506.3,212.0 C506.7,215.7 507.0,219.6 507.5,223.5 C508.0,227.4 508.6,232.1 509.4,235.3 C510.0,237.6 510.4,239.7 511.4,241.2 C512.2,242.4 513.5,242.8 514.3,244.1 C515.3,245.8 515.6,248.8 516.3,251.0 C516.9,253.0 517.3,255.9 518.2,256.9 C518.8,257.5 519.6,257.2 520.2,257.8 C521.0,258.6 521.3,260.6 522.2,261.8 C523.2,263.1 524.5,264.2 526.1,265.1 C528.0,266.1 530.4,266.8 532.9,267.3 C535.8,267.9 538.4,268.0 542.7,268.2 C551.1,268.6 566.6,268.5 580.0,268.6 C595.6,268.7 630.7,268.5 630.7,268.5"/>
<path stroke="#e61e28" d="M192.2,252.6 C192.2,252.6 376.9,252.5 400.0,252.3 C404.6,252.3 405.5,252.2 408.3,252.2 C411.1,252.1 414.1,252.3 416.7,252.0 C419.0,251.8 421.1,251.3 423.3,250.8 C425.5,250.3 427.8,249.7 430.0,249.2 C432.2,248.7 434.6,248.7 436.7,248.0 C438.7,247.4 440.7,246.4 442.2,245.3 C443.6,244.3 444.4,243.1 445.5,241.7 C446.7,240.2 447.8,238.4 448.9,236.5 C450.1,234.3 451.2,231.6 452.2,229.0 C453.3,226.2 454.2,222.9 455.0,220.0 C455.8,217.4 456.4,215.0 457.1,212.5 C457.7,210.2 458.3,208.3 458.9,205.6 C459.8,201.8 460.8,196.5 461.8,191.9 C462.8,187.3 463.7,182.7 464.7,178.1 C465.7,173.5 466.6,169.1 467.6,164.4 C468.6,159.3 469.7,153.7 470.6,148.7 C471.4,144.2 472.0,140.3 472.6,136.0 C473.2,131.5 473.6,126.9 474.3,122.4 C475.0,117.8 476.1,113.0 476.9,108.6 C477.7,104.5 478.3,100.8 479.2,96.9 C480.1,93.0 481.2,88.7 482.2,85.1 C483.0,81.9 483.7,79.0 484.7,76.3 C485.6,73.8 486.8,71.7 488.0,69.4 C489.2,67.1 490.6,64.7 492.0,62.5 C493.3,60.5 494.6,58.3 495.9,56.7 C496.9,55.5 497.8,54.8 498.8,53.7 C500.0,52.3 501.3,50.0 502.7,48.8 C503.8,47.9 505.2,46.8 506.3,46.9 C507.5,47.0 508.7,48.5 509.6,49.8 C510.6,51.3 511.0,53.6 511.6,55.7 C512.3,58.1 512.9,60.7 513.5,63.5 C514.2,66.6 514.8,70.0 515.5,73.3 C516.2,76.6 516.8,79.8 517.5,83.1 C518.1,86.4 518.8,89.6 519.4,92.9 C520.1,96.2 520.8,99.4 521.4,102.7 C521.9,106.0 522.2,109.2 522.7,112.5 C523.2,115.8 523.8,119.1 524.3,122.4 C524.8,125.7 525.2,128.9 525.7,132.2 C526.1,135.5 526.4,138.3 527.0,142.0 C527.8,147.0 529.2,153.7 530.2,159.4 C531.2,164.8 532.1,170.1 533.1,175.1 C534.1,179.8 535.2,184.5 536.1,188.8 C536.9,192.7 537.7,196.4 538.5,200.0 C539.2,203.4 539.9,206.7 540.6,210.0 C541.2,213.2 541.7,216.4 542.4,219.6 C543.1,222.9 543.8,226.3 544.7,229.4 C545.5,232.2 546.3,235.2 547.6,237.3 C548.7,239.0 550.3,239.8 551.6,241.2 C553.0,242.7 554.1,244.6 555.5,246.1 C557.0,247.7 558.4,249.6 560.4,250.6 C562.6,251.7 565.3,251.7 568.2,252.0 C571.7,252.4 574.5,252.5 580.0,252.7 C592.8,253.1 643.9,252.5 643.9,252.5"/>
<path stroke="#141414" d="M205.2,236.5 C205.2,236.5 439.0,236.9 470.0,236.4 C476.6,236.3 479.3,236.4 482.0,236.0 C483.3,235.8 484.0,235.7 485.0,235.3 C486.0,234.9 486.9,234.3 487.8,233.6 C488.8,232.8 489.7,231.6 490.8,230.7 C491.9,229.7 493.4,228.9 494.3,227.8 C495.2,226.8 495.7,225.6 496.4,224.3 C497.2,222.7 497.9,221.0 498.7,219.0 C499.7,216.6 500.7,213.8 501.7,211.0 C502.7,208.0 503.7,204.9 504.6,201.5 C505.7,197.6 506.6,193.3 507.6,188.8 C508.7,183.9 509.6,178.3 510.6,173.1 C511.6,167.9 512.6,162.7 513.5,157.5 C514.4,152.3 515.3,147.2 516.0,142.0 C516.7,136.8 517.1,131.1 517.8,126.3 C518.4,122.2 519.1,118.4 519.8,115.0 C520.4,112.1 521.1,109.7 521.7,107.0 C522.3,104.2 523.0,101.6 523.6,98.5 C524.4,94.7 525.2,90.2 526.0,86.0 C526.8,81.8 527.6,77.6 528.6,73.5 C529.5,69.6 530.5,65.8 531.6,62.0 C532.7,58.3 533.9,54.4 535.1,50.9 C536.2,47.8 537.1,44.8 538.3,42.2 C539.3,39.9 540.6,37.7 541.6,35.8 C542.4,34.2 542.7,32.5 543.7,31.5 C544.6,30.6 545.7,29.8 546.9,29.7 C548.2,29.6 550.1,30.6 551.3,31.5 C552.4,32.3 553.2,33.4 554.0,34.7 C554.9,36.2 555.3,38.6 556.2,40.1 C557.0,41.4 557.8,42.4 558.8,43.3 C559.8,44.2 561.1,44.6 562.0,45.5 C562.9,46.4 563.6,47.3 564.2,48.7 C565.1,50.8 565.6,54.3 566.3,57.3 C567.1,60.7 567.8,64.3 568.5,68.1 C569.3,72.2 569.9,76.7 570.6,81.0 C571.3,85.3 572.1,89.7 572.8,94.0 C573.5,98.3 574.3,102.6 575.0,106.9 C575.7,111.2 576.4,115.8 577.1,119.8 C577.7,123.3 578.1,126.1 578.7,129.5 C579.4,133.4 580.5,138.1 581.2,141.8 C581.8,144.8 582.0,146.9 582.6,150.0 C583.3,154.0 584.3,159.3 585.2,164.0 C586.1,168.7 586.9,173.7 587.8,178.3 C588.6,182.6 589.4,186.7 590.3,190.6 C591.1,194.3 592.0,197.8 592.9,201.2 C593.7,204.3 594.5,207.3 595.4,210.1 C596.2,212.6 597.0,214.8 598.0,217.1 C599.0,219.5 600.4,222.1 601.5,224.2 C602.4,225.9 603.1,227.3 604.2,228.6 C605.4,230.0 606.9,231.2 608.6,232.2 C610.6,233.3 613.1,234.2 615.6,234.8 C618.5,235.5 620.9,235.8 625.0,236.1 C632.4,236.6 656.7,236.4 656.7,236.4"/>
<path stroke="#bababa" d="M214.0,226.2 C214.0,226.2 488.5,226.9 519.3,225.8 C524.8,225.6 525.9,225.5 529.0,225.1 C531.8,224.7 534.7,224.0 536.9,223.5 C538.5,223.1 540.0,222.9 541.0,222.3 C541.7,221.9 542.0,221.4 542.7,220.8 C543.9,219.7 545.9,218.2 547.3,216.5 C548.9,214.6 550.5,212.2 551.7,210.0 C552.8,208.0 553.6,205.7 554.5,203.9 C555.2,202.5 555.8,201.9 556.5,200.2 C557.8,197.2 559.3,191.7 560.6,186.9 C562.0,181.4 563.2,175.3 564.5,169.2 C565.8,162.8 567.2,155.9 568.4,149.6 C569.5,143.7 570.7,137.5 571.5,132.5 C572.1,128.6 572.2,125.5 572.8,122.0 C573.4,118.4 574.3,114.8 575.0,111.2 C575.7,107.6 576.4,103.8 577.1,100.4 C577.7,97.4 578.3,95.0 579.0,92.0 C579.8,88.6 580.6,84.6 581.4,81.0 C582.2,77.4 582.8,73.7 583.6,70.3 C584.3,67.2 584.9,64.5 585.7,61.6 C586.5,58.7 587.7,55.9 588.5,53.0 C589.4,50.0 590.0,47.1 590.8,44.0 C591.7,40.6 592.5,36.3 593.4,33.2 C594.1,30.9 594.7,29.0 595.4,27.2 C596.0,25.7 596.3,24.2 597.3,23.0 C598.6,21.5 601.1,19.4 602.9,19.3 C604.5,19.2 606.2,20.7 607.7,21.9 C609.4,23.3 611.2,25.5 612.4,27.6 C613.6,29.8 614.2,32.4 614.9,35.0 C615.7,37.9 616.3,41.1 617.0,44.4 C617.7,48.1 618.3,51.6 619.1,56.0 C620.1,61.9 621.3,69.8 622.6,76.9 C624.0,84.2 625.7,91.8 627.1,99.3 C628.5,106.7 629.5,114.5 630.8,121.6 C632.0,128.1 633.3,134.0 634.5,140.2 C635.7,146.4 637.0,153.0 638.2,158.8 C639.2,164.0 640.4,169.0 641.2,173.6 C641.9,177.6 642.7,184.8 642.7,184.8"/>
</g>
<g font-size="14" stroke-width="0.3">
<text transform="translate(74.5,235.8) scale(1.03,1)" fill="#5e5e5e" stroke="#5e5e5e">Ser</text>
<text transform="translate(112.3,221.7) scale(1.03,1)" fill="#1e1e78" stroke="#1e1e78">Thr</text>
<text transform="translate(126.1,205.2) scale(1.03,1)" fill="#827838" stroke="#827838">Cys</text>
<text transform="translate(146.5,193.9) scale(1.03,1)" fill="#3ce6f0" stroke="#3ce6f0">Pro</text>
<text transform="translate(177.6,179.4) scale(1.03,1)" fill="#6e1e6e" stroke="#6e1e6e">Gly</text>
<text transform="translate(198.4,166.8) scale(1.03,1)" fill="#8c1e28" stroke="#8c1e28">Ala</text>
<text transform="translate(217.1,152.9) scale(1.03,1)" fill="#1e641e" stroke="#1e641e">Glu</text>
<text transform="translate(237.8,138.8) scale(1.03,1)" fill="#1e786e" stroke="#1e786e">Asp</text>
<text transform="translate(310.2,124.8) scale(1.03,1)" fill="#e632e6" stroke="#e632e6">Val</text>
<text transform="translate(326.8,111.5) scale(1.03,1)" fill="#2828be" stroke="#2828be">Met</text>
<text transform="translate(350.2,100.2) scale(1.03,1)" fill="#f08c3c" stroke="#f08c3c">Arg</text>
<text transform="translate(383.3,82.8) scale(1.03,1)" fill="#8282f0" stroke="#8282f0">Lys</text>
<text transform="translate(428.0,71.5) scale(1.03,1)" fill="#32dc32" stroke="#32dc32">Ile</text>
<text transform="translate(464.0,58.7) scale(1.03,1)" fill="#5a1e23" stroke="#5a1e23">His</text>
<text transform="translate(492.4,43.3) scale(1.03,1)" fill="#e61e28" stroke="#e61e28">Leu</text>
<text transform="translate(535.1,24.7) scale(1.03,1)" fill="#141414" stroke="#141414">Phe</text>
<text transform="translate(593.4,14.1) scale(1.03,1)" fill="#888888" stroke="#888888">Tyr</text>
<text transform="translate(617.6,218.2) scale(1.03,1)" fill="#888888" stroke="#888888">182 &gt; 165</text>
<text transform="translate(609.4,232.6) scale(1.03,1)" fill="#141414" stroke="#141414">166 &gt;120</text>
<text transform="translate(599.7,250.9) scale(1.03,1)" fill="#e61e28" stroke="#e61e28">132 &gt; 43</text>
<text transform="translate(580.4,265.9) scale(1.03,1)" fill="#5a1e23" stroke="#5a1e23">156 &gt; 110</text>
<text transform="translate(575.1,281.0) scale(1.03,1)" fill="#32dc32" stroke="#32dc32">132 &gt; 69</text>
<text transform="translate(562.9,294.8) scale(1.03,1)" fill="#8282f0" stroke="#8282f0">147 &gt; 84</text>
<text transform="translate(550.6,308.3) scale(1.03,1)" fill="#f08c3c" stroke="#f08c3c">175 &gt; 70</text>
<text transform="translate(533.9,320.7) scale(1.03,1)" fill="#2828be" stroke="#2828be">150 &gt; 104</text>
<text transform="translate(533.9,334.9) scale(1.03,1)" fill="#e632e6" stroke="#e632e6">118 &gt; 72</text>
<text transform="translate(525.1,347.9) scale(1.03,1)" fill="#1e786e" stroke="#1e786e">134 &gt; 74</text>
<text transform="translate(513.7,362.2) scale(1.03,1)" fill="#1e641e" stroke="#1e641e">148 &gt; 84</text>
<text transform="translate(509.9,375.0) scale(1.03,1)" fill="#8c1e28" stroke="#8c1e28">90 &gt; 44</text>
<text transform="translate(502.8,389.2) scale(1.03,1)" fill="#6e1e6e" stroke="#6e1e6e">76 &gt; 30</text>
<text transform="translate(480.9,402.0) scale(1.03,1)" fill="#3ce6f0" stroke="#3ce6f0">116 &gt; 70</text>
<text transform="translate(469.5,414.7) scale(1.03,1)" fill="#827838" stroke="#827838">122 &gt; 76</text>
<text transform="translate(462.5,427.5) scale(1.03,1)" fill="#1e1e78" stroke="#1e1e78">120 &gt; 74</text>
<text transform="translate(451.1,441.0) scale(1.03,1)" fill="#5e5e5e" stroke="#5e5e5e">106 &gt; 60</text>
<text transform="translate(617.4,201.8) scale(1.025,1)" fill="#141414" stroke="#141414" font-style="italic">m/z &gt; m/z</text>
</g>
<line x1="618" y1="204.3" x2="680.5" y2="204.3" stroke="#2a2a2a" stroke-width="1.2"/>
<g stroke="#1a1a1a" stroke-width="1.3" fill="none">
<line x1="13.8" y1="445.5" x2="531.8" y2="445.5"/>
<line x1="13.80" y1="445" x2="13.80" y2="451.2"/>
<line x1="78.55" y1="445" x2="78.55" y2="451.2"/>
<line x1="143.30" y1="445" x2="143.30" y2="451.2"/>
<line x1="208.05" y1="445" x2="208.05" y2="451.2"/>
<line x1="272.80" y1="445" x2="272.80" y2="451.2"/>
<line x1="337.55" y1="445" x2="337.55" y2="451.2"/>
<line x1="402.30" y1="445" x2="402.30" y2="451.2"/>
<line x1="467.05" y1="445" x2="467.05" y2="451.2"/>
<line x1="531.80" y1="445" x2="531.80" y2="451.2"/>
</g>
<g font-size="14" fill="#111" stroke="#111" stroke-width="0.3" text-anchor="middle">
<text transform="translate(13.80,470.6) scale(1.04,1)">-26</text>
<text transform="translate(78.55,470.6) scale(1.04,1)">-24</text>
<text transform="translate(143.30,470.6) scale(1.04,1)">-22</text>
<text transform="translate(208.05,470.6) scale(1.04,1)">-20</text>
<text transform="translate(272.80,470.6) scale(1.04,1)">-18</text>
<text transform="translate(337.55,470.6) scale(1.04,1)">-16</text>
<text transform="translate(402.30,470.6) scale(1.04,1)">-14</text>
<text transform="translate(467.05,470.6) scale(1.04,1)">-12</text>
<text transform="translate(531.80,470.6) scale(1.04,1)">-10</text>
</g>
<text transform="translate(169.5,503) scale(1.011,1)" font-size="17.6" fill="#111" stroke="#111" stroke-width="0.3">Compensation Voltage (V)</text>
</svg>
</body></html>
